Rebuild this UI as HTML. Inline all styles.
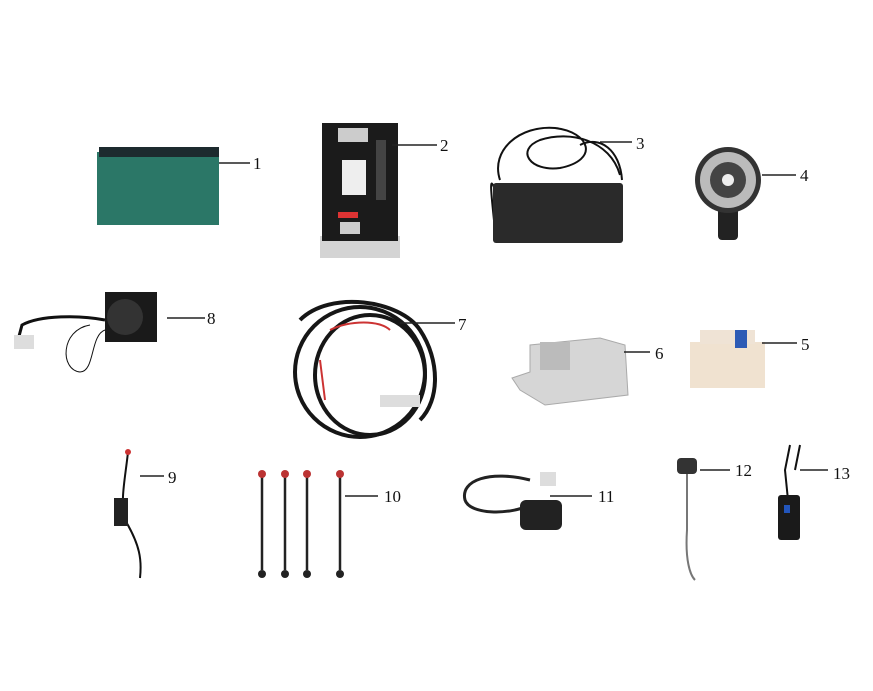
<!DOCTYPE html>
<html><head><meta charset="utf-8"><style>
html,body{margin:0;padding:0;background:#fff;}
svg{display:block}
text{font-family:"Liberation Serif",serif;font-size:17px;fill:#111}
</style></head><body>
<svg width="873" height="691" viewBox="0 0 873 691" xmlns="http://www.w3.org/2000/svg">
<rect width="873" height="691" fill="#fff"/>
<!-- 1 battery -->
<rect x="97" y="152" width="122" height="73" fill="#2b7767"/>
<rect x="99" y="147" width="120" height="10" fill="#1d2a2e"/>
<line x1="219" y1="163" x2="250" y2="163" stroke="#222" stroke-width="1.5"/>
<text x="253" y="169">1</text>
<!-- 2 controller -->
<rect x="320" y="236" width="80" height="22" fill="#d4d4d4"/>
<rect x="322" y="123" width="76" height="118" fill="#1b1b1b"/>
<rect x="338" y="128" width="30" height="14" fill="#ccc"/>
<rect x="342" y="160" width="24" height="35" fill="#eee"/>
<rect x="338" y="212" width="20" height="6" fill="#d33"/>
<rect x="340" y="222" width="20" height="12" fill="#ccc"/>
<rect x="376" y="140" width="10" height="60" fill="#444"/>
<line x1="392" y1="145" x2="437" y2="145" stroke="#222" stroke-width="1.5"/>
<text x="440" y="151">2</text>
<!-- 3 charger -->
<g fill="none" stroke="#111" stroke-width="2">
<path d="M500 180 C490 150 520 125 555 128 C590 132 600 160 560 168 C530 172 515 150 540 140 C570 130 610 140 620 175"/>
<path d="M495 190 C488 170 492 200 495 230"/>
<path d="M580 145 C600 135 620 150 622 180"/>
</g>
<rect x="493" y="183" width="130" height="60" rx="3" fill="#2a2a2a"/>
<line x1="600" y1="142" x2="632" y2="142" stroke="#222" stroke-width="1.5"/>
<text x="636" y="149">3</text>
<!-- 4 horn -->
<rect x="718" y="200" width="20" height="40" rx="4" fill="#222"/>
<circle cx="728" cy="180" r="33" fill="#333"/>
<circle cx="728" cy="180" r="28" fill="#bbb"/>
<circle cx="728" cy="180" r="18" fill="#444"/>
<circle cx="728" cy="180" r="6" fill="#eee"/>
<line x1="762" y1="175" x2="796" y2="175" stroke="#222" stroke-width="1.5"/>
<text x="800" y="181">4</text>
<!-- 8 speaker -->
<g fill="none" stroke="#111" stroke-width="3">
<path d="M105 320 C80 315 40 315 22 325 L18 340"/>
</g>
<path d="M90 325 C60 330 60 370 80 372 C95 372 90 335 105 330" fill="none" stroke="#111" stroke-width="1"/>
<rect x="105" y="292" width="52" height="50" fill="#1a1a1a"/>
<circle cx="125" cy="317" r="18" fill="#333"/>
<rect x="14" y="335" width="20" height="14" fill="#ddd"/>
<line x1="167" y1="318" x2="205" y2="318" stroke="#222" stroke-width="1.5"/>
<text x="207" y="324">8</text>
<!-- 7 harness -->
<g fill="none" stroke="#161616" stroke-width="4">
<ellipse cx="360" cy="372" rx="65" ry="65"/>
<ellipse cx="370" cy="375" rx="55" ry="60"/>
<path d="M300 320 C330 290 400 300 420 330 C440 360 440 400 420 420"/>
</g>
<g fill="none" stroke="#c33" stroke-width="2">
<path d="M330 330 C350 320 380 320 390 330"/><path d="M320 360 L325 400"/>
</g>
<rect x="380" y="395" width="40" height="12" fill="#ddd"/>
<line x1="400" y1="323" x2="455" y2="323" stroke="#222" stroke-width="1.5"/>
<text x="458" y="330">7</text>
<!-- 6 dc-dc -->
<path d="M512 378 L530 372 L530 345 L600 338 L625 345 L628 395 L545 405 L520 390 Z" fill="#d6d6d6" stroke="#aaa"/>
<rect x="540" y="342" width="30" height="28" fill="#bbb"/>
<line x1="624" y1="352" x2="650" y2="352" stroke="#222" stroke-width="1.5"/>
<text x="655" y="359">6</text>
<!-- 5 breaker -->
<rect x="690" y="342" width="75" height="46" fill="#f0e2d0"/>
<rect x="700" y="330" width="55" height="14" fill="#efe3d5"/>
<rect x="735" y="330" width="12" height="18" fill="#2d5bb5"/>
<line x1="762" y1="343" x2="797" y2="343" stroke="#222" stroke-width="1.5"/>
<text x="801" y="350">5</text>
<!-- 9 -->
<path d="M128 452 C125 480 120 500 125 520 C140 545 142 560 140 578" fill="none" stroke="#111" stroke-width="2"/>
<rect x="114" y="498" width="14" height="28" fill="#222"/>
<circle cx="128" cy="452" r="3" fill="#c33"/>
<line x1="140" y1="476" x2="164" y2="476" stroke="#222" stroke-width="1.5"/>
<text x="168" y="483">9</text>
<!-- 10 -->
<g stroke="#222" stroke-width="2.5">
<line x1="262" y1="472" x2="262" y2="570"/><line x1="285" y1="472" x2="285" y2="570"/>
<line x1="307" y1="472" x2="307" y2="570"/><line x1="340" y1="472" x2="340" y2="570"/>
</g>
<g fill="#b33"><circle cx="262" cy="474" r="4"/><circle cx="285" cy="474" r="4"/><circle cx="307" cy="474" r="4"/><circle cx="340" cy="474" r="4"/></g>
<g fill="#222"><circle cx="262" cy="574" r="4"/><circle cx="285" cy="574" r="4"/><circle cx="307" cy="574" r="4"/><circle cx="340" cy="574" r="4"/></g>
<line x1="345" y1="496" x2="378" y2="496" stroke="#222" stroke-width="1.5"/>
<text x="384" y="502">10</text>
<!-- 11 -->
<path d="M530 480 C490 470 460 480 465 500 C470 515 510 515 530 505" fill="none" stroke="#222" stroke-width="3"/>
<rect x="520" y="500" width="42" height="30" rx="6" fill="#222"/>
<rect x="540" y="472" width="16" height="14" fill="#ddd"/>
<line x1="550" y1="496" x2="592" y2="496" stroke="#222" stroke-width="1.5"/>
<text x="598" y="502">11</text>
<!-- 12 -->
<rect x="677" y="458" width="20" height="16" rx="4" fill="#333"/>
<path d="M687 474 L687 530 C685 560 690 575 695 580" fill="none" stroke="#777" stroke-width="2"/>
<line x1="700" y1="470" x2="730" y2="470" stroke="#222" stroke-width="1.5"/>
<text x="735" y="476">12</text>
<!-- 13 -->
<path d="M790 445 L785 470 L788 500 M800 445 L795 470" fill="none" stroke="#111" stroke-width="2"/>
<rect x="778" y="495" width="22" height="45" rx="3" fill="#1a1a1a"/>
<rect x="784" y="505" width="6" height="8" fill="#25b"/>
<line x1="800" y1="470" x2="828" y2="470" stroke="#222" stroke-width="1.5"/>
<text x="833" y="479">13</text>
</svg>
</body></html>
